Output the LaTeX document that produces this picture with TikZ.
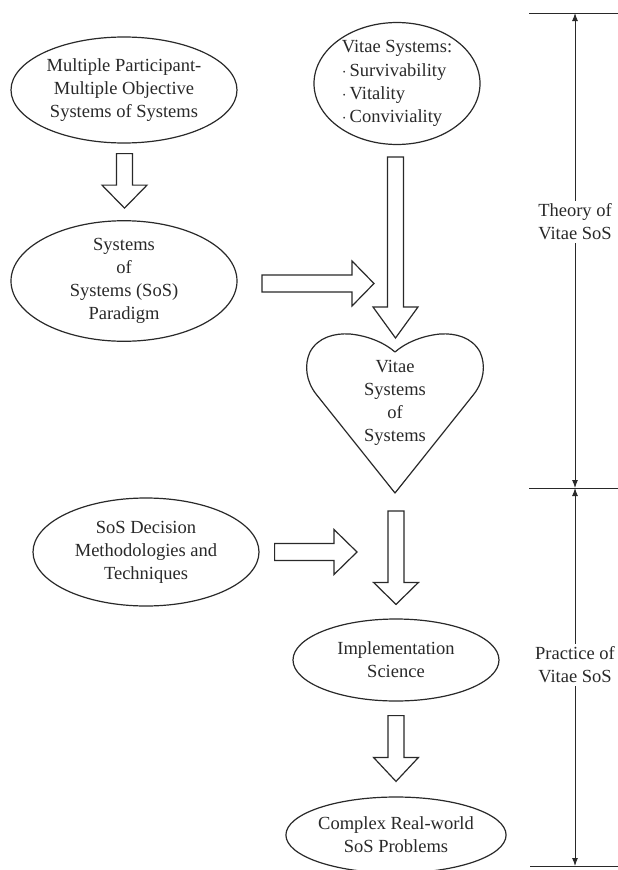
\documentclass[tikz,border=0pt]{standalone}
\usepackage{fontspec}
\setmainfont{Liberation Serif}
\usetikzlibrary{shapes.geometric,arrows.meta,calc}
\definecolor{ink}{gray}{0.16}
\newcommand{\vblock}[3]{%
  \draw[barrow] let \p1=(#1), \p2=(#2) in
   (\x1-8pt,\y1) -- (\x1+8pt,\y1) -- (\x1+8pt,\y2+#3) -- (\x1+22.5pt,\y2+#3) -- (\x1,\y2)
   -- (\x1-22.5pt,\y2+#3) -- (\x1-8pt,\y2+#3) -- cycle;}
\newcommand{\hblock}[3]{%
  \draw[barrow] let \p1=(#1), \p2=(#2) in
   (\x1,\y1+8.5pt) -- (\x2-#3,\y1+8.5pt) -- (\x2-#3,\y1+22.5pt) -- (\x2,\y1)
   -- (\x2-#3,\y1-22.5pt) -- (\x2-#3,\y1-8.5pt) -- (\x1,\y1-8.5pt) -- cycle;}
\tikzset{
  oval/.style={ellipse, draw=ink, line width=1.2pt, inner sep=0pt, align=center, text=ink},
  barrow/.style={draw=ink, line width=1.2pt, line join=miter, fill=white},
  lbl/.style={align=center, text=ink, inner sep=3pt},
  dimline/.style={draw=ink, line width=1pt},
  dimarrow/.style={dimline, -{Latex[length=8pt,width=6pt]}},
}
\begin{document}
\begin{tikzpicture}[x=1pt, y=-1pt, font=\fontsize{18.5}{23}\selectfont]
\useasboundingbox[fill=white] (0,0) rectangle (618,870);

% ellipses
\node[oval, minimum width=226pt, minimum height=106pt] (e1) at (124,90)
  {Multiple Participant-\\Multiple Objective\\Systems of Systems};
\node[oval, minimum width=226pt, minimum height=108pt] (e2) at (124,281)
  {Systems\\of\\Systems (SoS)\\Paradigm};
\node[oval, minimum width=166pt, minimum height=117pt, align=left] (e3) at (397,83.5)
  {Vitae Systems:\\[1pt]$\cdot$\,Survivability\\$\cdot$\,Vitality\\$\cdot$\,Conviviality};
\node[oval, minimum width=226pt, minimum height=108pt] (e4) at (146,552)
  {SoS Decision\\Methodologies and\\Techniques};
\node[oval, minimum width=206pt, minimum height=82pt] (e5) at (396,660)
  {Implementation\\Science};
\node[oval, minimum width=204pt, minimum height=76pt] (e6) at (396,835)
  {Complex Real-world\\SoS Problems};

% heart
\draw[draw=ink, line width=1.2pt, line join=round]
  (395,493) -- (316,394) .. controls (306,381) and (304,365) .. (310,352)
  .. controls (318,337) and (335,333) .. (350,334)
  .. controls (370,336) and (386,344) .. (395,352)
  .. controls (404,344) and (420,336) .. (440,334)
  .. controls (455,333) and (472,337) .. (480,352)
  .. controls (486,365) and (484,381) .. (474,394) -- cycle;
\node[lbl, inner sep=0pt] (heart) at (395,403) {Vitae\\Systems\\of\\Systems};

% block arrows
\coordinate (a1s) at ($(e1.south)+(0.5,10)$);
\coordinate (a1e) at ($(e2.north)+(0.5,-12)$);
\vblock{a1s}{a1e}{23pt}
\coordinate (a2s) at (262,283.5);
\coordinate (a2e) at (374,283.5);
\hblock{a2s}{a2e}{22pt}
\coordinate (a3s) at ($(e3.south)+(-1.5,12)$);
\coordinate (a3e) at (395.5,338);
\vblock{a3s}{a3e}{31pt}
\coordinate (a4s) at ($(e4.east)+(15,0)$);
\coordinate (a4e) at (357,552);
\hblock{a4s}{a4e}{23pt}
\coordinate (a5s) at (396,511);
\coordinate (a5e) at ($(e5.north)+(0,-14)$);
\vblock{a5s}{a5e}{22pt}
\coordinate (a6s) at ($(e5.south)+(0,14)$);
\coordinate (a6e) at ($(e6.north)+(0,-15)$);
\vblock{a6s}{a6e}{24pt}

% right-hand scale
\coordinate (t0) at (529,13);   \coordinate (t1) at (618,13);
\coordinate (m0) at (529,488);  \coordinate (m1) at (618,488);
\coordinate (b0) at (530,866);  \coordinate (b1) at (618,866);
\coordinate (tx) at (575,13); \coordinate (mx) at (575,488); \coordinate (bx) at (575,866);
\draw[dimline] (t0) -- (t1);
\draw[dimline] (m0) -- (m1);
\draw[dimline] (b0) -- (b1);
\node[lbl] (theory) at (575,222) {Theory of\\Vitae SoS};
\node[lbl] (practice) at (575,665) {Practice of\\Vitae SoS};
\draw[dimarrow] (theory.north) -- (tx);
\draw[dimarrow] (theory.south) -- (mx);
\draw[dimarrow] (practice.north) -- (mx);
\draw[dimarrow] (practice.south) -- (bx);
\end{tikzpicture}
\end{document}
